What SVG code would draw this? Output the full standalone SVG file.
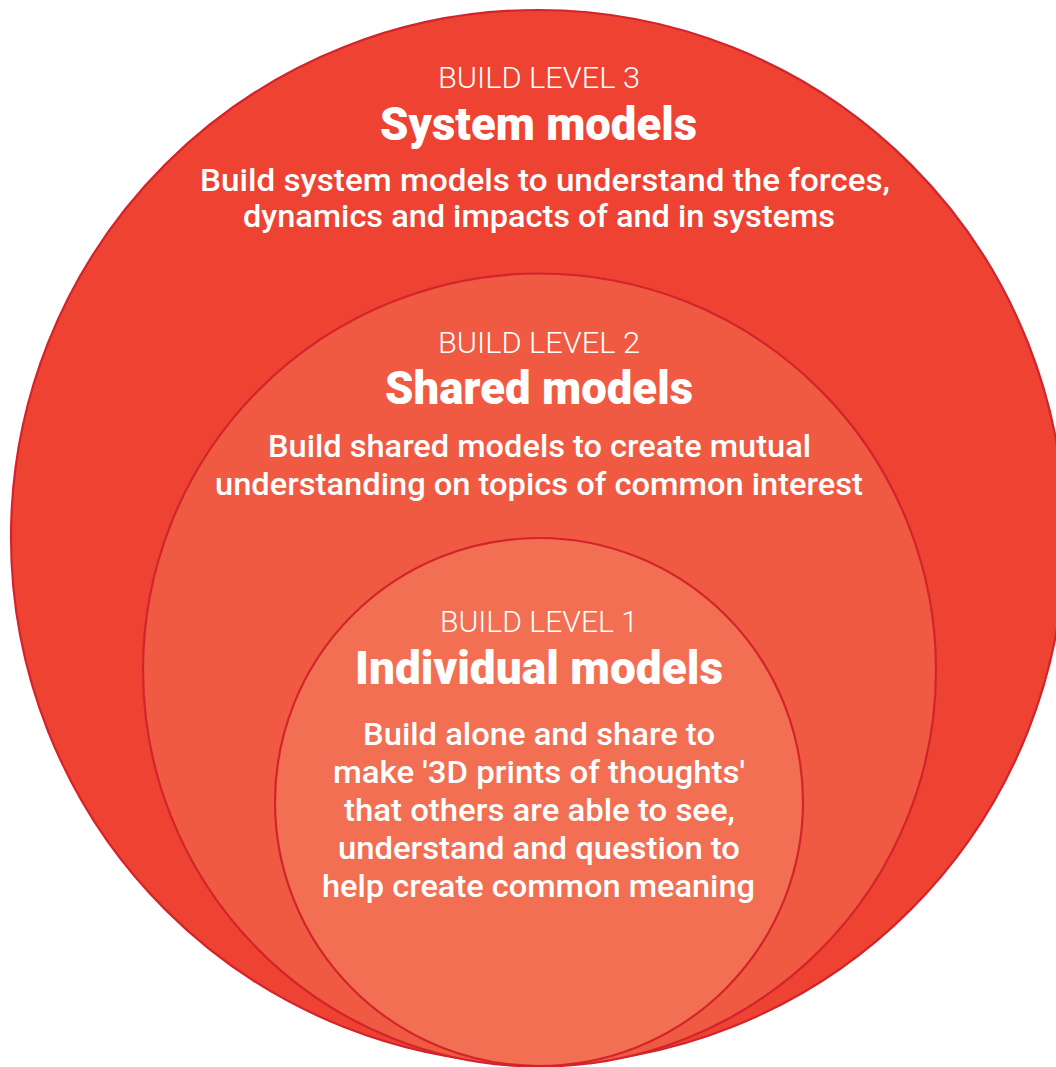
<svg xmlns="http://www.w3.org/2000/svg" width="1056" height="1067" viewBox="0 0 1056 1067">
  <style>
    .ring { stroke: #D3242C; stroke-width: 2.2; }
    .lvl { font-family: Roboto, "Open Sans", sans-serif; font-weight: 300; font-size: 30px; fill: #FFFFFF; text-anchor: middle; }
    .ttl { font-family: Roboto, "Open Sans", sans-serif; font-weight: 900; font-size: 46px; fill: #FFFFFF; text-anchor: middle; }
    .txt { font-family: Roboto, "Open Sans", sans-serif; font-weight: 500; font-size: 32px; fill: #FFFFFF; text-anchor: middle; }
  </style>
  <rect width="1056" height="1067" fill="#FFFFFF"/>

  <!-- Build level 3: system models (outer ring) -->
  <g id="level3">
    <circle class="ring" cx="538" cy="537" r="527" fill="#EE4233"/>
    <text class="lvl" x="539" y="88" textLength="202" lengthAdjust="spacingAndGlyphs">BUILD LEVEL 3</text>
    <text class="ttl" x="538.5" y="140" textLength="317" lengthAdjust="spacingAndGlyphs">System models</text>
    <text class="txt" x="545" y="191" textLength="690" lengthAdjust="spacingAndGlyphs">Build system models to understand the forces,</text>
    <text class="txt" x="539" y="227" textLength="592" lengthAdjust="spacingAndGlyphs">dynamics and impacts of and in systems</text>
  </g>

  <!-- Build level 2: shared models (middle ring) -->
  <g id="level2">
    <circle class="ring" cx="539.5" cy="670" r="396.5" fill="#F05A42"/>
    <text class="lvl" x="539" y="353" textLength="202" lengthAdjust="spacingAndGlyphs">BUILD LEVEL 2</text>
    <text class="ttl" x="539" y="404" textLength="308" lengthAdjust="spacingAndGlyphs">Shared models</text>
    <text class="txt" x="539.5" y="457" textLength="543" lengthAdjust="spacingAndGlyphs">Build shared models to create mutual</text>
    <text class="txt" x="539" y="495" textLength="648" lengthAdjust="spacingAndGlyphs">understanding on topics of common interest</text>
  </g>

  <!-- Build level 1: individual models (inner ring) -->
  <g id="level1">
    <circle class="ring" cx="539" cy="802" r="264" fill="#F26F53"/>
    <text class="lvl" x="539" y="632" textLength="198" lengthAdjust="spacingAndGlyphs">BUILD LEVEL 1</text>
    <text class="ttl" x="539" y="684" textLength="368" lengthAdjust="spacingAndGlyphs">Individual models</text>
    <text class="txt" x="539" y="745" textLength="352" lengthAdjust="spacingAndGlyphs">Build alone and share to</text>
    <text class="txt" x="539" y="783" textLength="412" lengthAdjust="spacingAndGlyphs">make '3D prints of thoughts'</text>
    <text class="txt" x="539.5" y="821" textLength="391" lengthAdjust="spacingAndGlyphs">that others are able to see,</text>
    <text class="txt" x="539" y="859" textLength="402" lengthAdjust="spacingAndGlyphs">understand and question to</text>
    <text class="txt" x="538.5" y="897" textLength="433" lengthAdjust="spacingAndGlyphs">help create common meaning</text>
  </g>

  <!-- no connectors in this figure -->
  <g id="connectors"/>
</svg>
